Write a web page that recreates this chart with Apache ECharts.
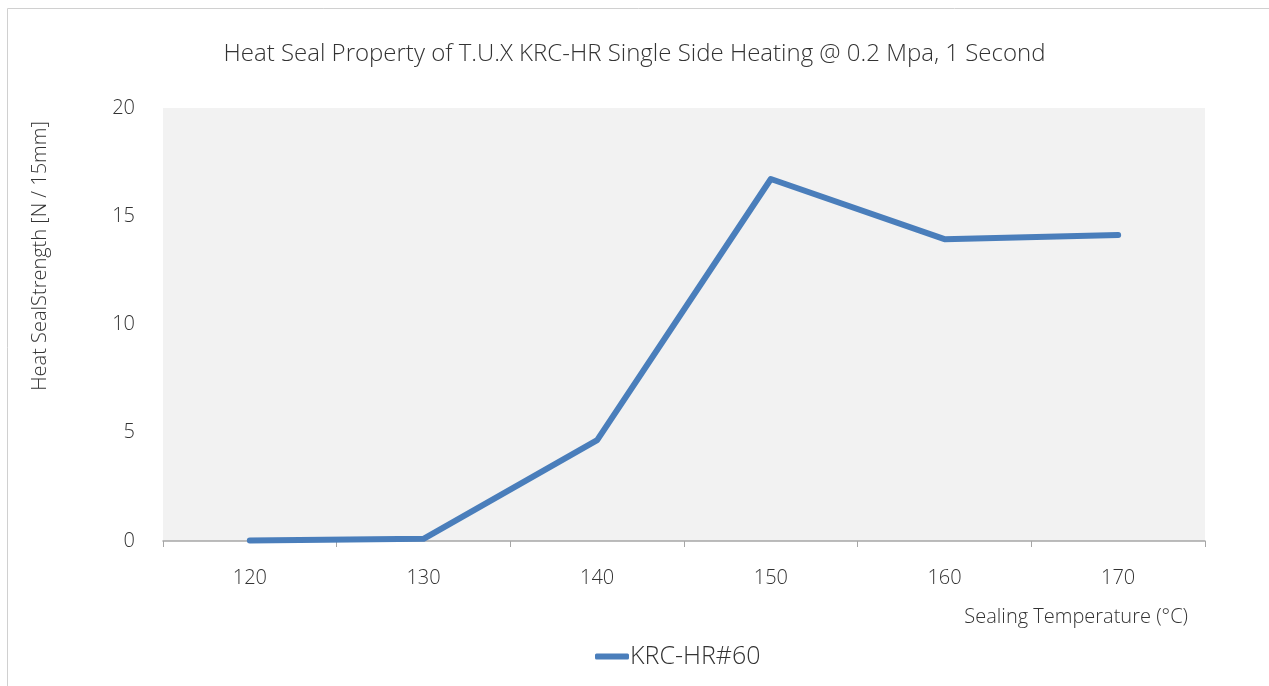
<!DOCTYPE html>
<html>
<head>
<meta charset="utf-8">
<title>Heat Seal Property</title>
<script src="https://cdn.jsdelivr.net/npm/echarts@6/dist/echarts.min.js"></script>
<style>
	html, body { margin: 0; padding: 0; background: #fff; }
	#chart { width: 1269px; height: 686px; }
</style>
</head>
<body>
<div id="chart"></div>
<script type="text/javascript">
	// data
	var temperatures = ['120', '130', '140', '150', '160', '170'];
	var strengthKrc60 = [0.02, 0.1, 4.66, 16.72, 13.94, 14.13];
	var yTicks = [0, 5, 10, 15, 20];
	var seriesName = 'KRC-HR#60';

	var font = '"Open Sans", Lato, sans-serif';
	var textColor = '#333333';

	var option = {
		animation: false,
		title: {
			text: 'Heat Seal Property of T.U.X KRC-HR Single Side Heating @ 0.2 Mpa, 1 Second',
			left: 'center',
			top: 37,
			textStyle: {
				fontFamily: font,
				fontWeight: 300,
				fontSize: 24,
				color: textColor
			}
		},
		grid: {
			left: 163,
			right: 64,
			top: 108,
			bottom: 145,
			show: true,
			backgroundColor: '#f2f2f2',
			borderWidth: 0
		},
		legend: {
			data: [seriesName],
			left: 590,
			top: 639,
			icon: 'roundRect',
			itemWidth: 34,
			itemHeight: 6,
			textStyle: {
				fontFamily: font,
				fontWeight: 300,
				fontSize: 25,
				color: textColor,
				padding: [0, 0, 0, -4]
			}
		},
		xAxis: {
			type: 'category',
			data: temperatures,
			boundaryGap: true,
			axisLine: { lineStyle: { color: '#a6a6a6', width: 1.5 } },
			axisTick: { show: true, length: 6, lineStyle: { color: '#a6a6a6' } },
			axisLabel: {
				margin: 27,
				fontFamily: font,
				fontWeight: 300,
				fontSize: 20,
				color: textColor
			},
			splitLine: { show: false }
		},
		yAxis: {
			type: 'value',
			min: yTicks[0],
			max: yTicks[yTicks.length - 1],
			interval: yTicks[1] - yTicks[0],
			axisLine: { show: false },
			axisTick: { show: false },
			splitLine: { show: false },
			axisLabel: {
				margin: 28,
				fontFamily: font,
				fontWeight: 300,
				fontSize: 20,
				color: textColor
			}
		},
		graphic: [
			{
				type: 'rect',
				shape: { x: 7.5, y: 8.5, width: 1300, height: 700 },
				style: { fill: 'none', stroke: '#d0d0d0', lineWidth: 1 },
				silent: true
			},
			{
				type: 'text',
				x: 1188,
				y: 617,
				style: {
					text: 'Sealing Temperature (°C)',
					fontFamily: font,
					fontWeight: 300,
					fontSize: 20,
					fill: textColor,
					align: 'right',
					verticalAlign: 'middle'
				}
			},
			{
				type: 'text',
				x: 40,
				y: 256,
				rotation: Math.PI / 2,
				style: {
					text: 'Heat SealStrength [N / 15mm]',
					fontFamily: font,
					fontWeight: 300,
					fontSize: 20,
					fill: textColor,
					align: 'center',
					verticalAlign: 'middle'
				}
			}
		],
		series: [
			{
				name: seriesName,
				type: 'line',
				data: strengthKrc60,
				showSymbol: false,
				symbol: 'none',
				color: '#4a7ebb',
				lineStyle: { width: 6, color: '#4a7ebb', cap: 'round', join: 'round' }
			}
		]
	};

	var myChart = echarts.init(document.getElementById('chart'));
	myChart.setOption(option);
</script>
</body>
</html>
